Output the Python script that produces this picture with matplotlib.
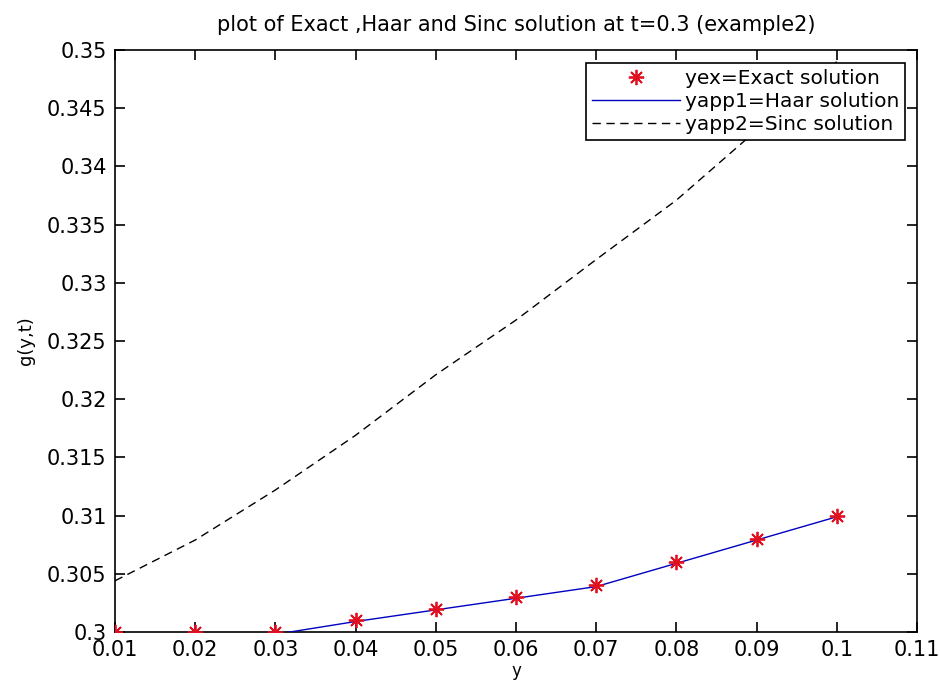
import matplotlib
matplotlib.use("Agg")
from matplotlib import pyplot as plt

y = [0.01, 0.02, 0.03, 0.04, 0.05, 0.06, 0.07, 0.08, 0.09, 0.10]
yex = [0.300, 0.300, 0.300, 0.301, 0.302, 0.303, 0.304, 0.306, 0.308, 0.310]
yapp1 = [0.2990, 0.2994, 0.2998, 0.3009, 0.3019, 0.3029, 0.3039, 0.3059, 0.3079, 0.3099]
yapp2 = [0.3044, 0.3079, 0.3122, 0.3169, 0.3221, 0.3268, 0.3320, 0.3371, 0.3431, 0.3490]

xticks = [0.01, 0.02, 0.03, 0.04, 0.05, 0.06, 0.07, 0.08, 0.09, 0.10, 0.11]
xlabels = ["0.01", "0.02", "0.03", "0.04", "0.05", "0.06", "0.07", "0.08", "0.09", "0.1", "0.11"]
yticks = [0.300, 0.305, 0.310, 0.315, 0.320, 0.325, 0.330, 0.335, 0.340, 0.345, 0.350]
ylabels = ["0.3", "0.305", "0.31", "0.315", "0.32", "0.325", "0.33", "0.335", "0.34", "0.345", "0.35"]

plt.rcParams["font.family"] = ["DejaVu Sans"]

fig = plt.figure(figsize=(9.4, 6.92), dpi=100)
ax = fig.add_axes([0.1223, 0.0867, 0.8532, 0.841])

# matlab style asterisk: 8 spokes
ax.plot(y, yex, linestyle="none", marker=(8, 2, 0), color="#e01020",
        markersize=11, markeredgewidth=1.3, label="yex=Exact solution", zorder=4)
ax.plot(y, yapp1, "-", color="#0000c0", linewidth=1.0,
        label="yapp1=Haar solution", zorder=3)
ax.plot(y, yapp2, "--", color="black", linewidth=1.0, dashes=(6, 4),
        label="yapp2=Sinc solution", zorder=3)

ax.set_xlim(0.01, 0.11)
ax.set_ylim(0.3, 0.35)
ax.set_xticks(xticks)
ax.set_xticklabels(xlabels)
ax.set_yticks(yticks)
ax.set_yticklabels(ylabels)
ax.tick_params(direction="in", length=7, width=1.2, top=True, right=True,
               labelsize=15, colors="black")
ax.tick_params(axis="x", pad=6)
ax.tick_params(axis="y", pad=6)
for s in ax.spines.values():
    s.set_linewidth(1.2)

ax.set_title("plot of Exact ,Haar and Sinc solution at t=0.3 (example2)", fontsize=15, pad=14)
ax.set_xlabel("y", fontsize=12, labelpad=1)
ax.set_ylabel("g(y,t)", fontsize=13, labelpad=9)

leg = ax.legend(loc="upper right", bbox_to_anchor=(0.985, 0.978), borderaxespad=0,
                fontsize=14.5, frameon=True, fancybox=False, edgecolor="black",
                framealpha=1, handlelength=4.4, handletextpad=0.2,
                labelspacing=0.2, borderpad=0.3)
leg.get_frame().set_linewidth(1.2)

fig.savefig("out.png", dpi=100)
